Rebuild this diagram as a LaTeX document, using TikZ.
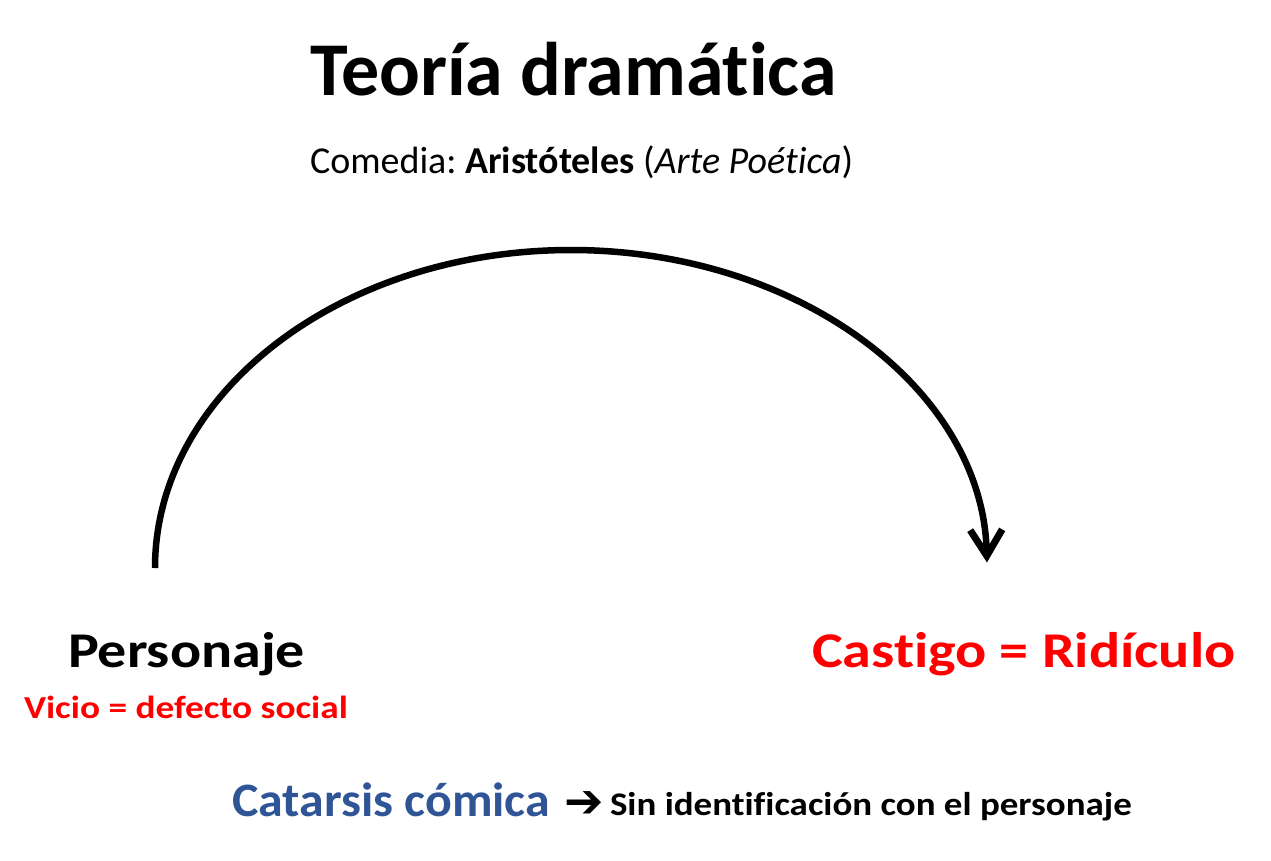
\documentclass[tikz,border=0pt]{standalone}
\usepackage{fontspec}
\setmainfont{Carlito}[Ligatures=NoCommon]
\newfontfamily\symfont{DejaVu Sans}
\usetikzlibrary{arrows.meta}
\definecolor{vicered}{HTML}{FF0000}
\definecolor{catblue}{HTML}{2F5597}
\tikzset{
  lbl/.style={anchor=base west, inner sep=0pt, outer sep=0pt},
}
\newcommand{\wide}[2]{\scalebox{#1}[1]{#2}}
\frenchspacing
\begin{document}
\begin{tikzpicture}[x=1pt, y=-1pt, line cap=round, line join=round]

  %% ==== titulo ====
  \node[lbl] (titulo) at (310,95) {\fontsize{76}{76}\selectfont\bfseries Teoría dramática};
  \node[lbl] (comedia) at (310,173) {\fontsize{38}{38}\selectfont Comedia: \textbf{Aristóteles} (\textit{Arte Poética})};

  %% ==== arco ====
  \coordinate (arcstart) at (155,568);
  \draw[line width=6.5pt, line cap=butt, -{Straight Barb[length=26pt, width=32pt, line width=7pt]}]
    (arcstart) arc[start angle=180, end angle=359, x radius=416, y radius=318];

  %% ==== etiquetas ====
  \node[lbl] (personaje) at (68,667) {\fontsize{50}{50}\selectfont\bfseries\wide{1.16}{Personaje}};
  \node[lbl, text=vicered] (vicio) at (24,718) {\fontsize{32}{32}\selectfont\bfseries\wide{1.166}{Vicio = defecto social}};
  \node[lbl, text=vicered] (castigo) at (812,667) {\fontsize{50}{50}\selectfont\bfseries\wide{1.163}{Castigo = Ridículo}};

  %% ==== catarsis ====
  \node[lbl, text=catblue] (catarsis) at (232,816) {\fontsize{48}{48}\selectfont\bfseries\wide{1.04}{Catarsis cómica}};
  \node[lbl] (flecha) at (564,817) {\fontsize{47}{47}\selectfont\symfont\bfseries ➔};
  \node[lbl] (sinid) at (610,815) {\fontsize{33}{33}\selectfont\bfseries\wide{1.12}{Sin identificación con el personaje}};

  \pgfresetboundingbox
  \path[use as bounding box] (0,0) rectangle (1271,860);
\end{tikzpicture}
\end{document}
